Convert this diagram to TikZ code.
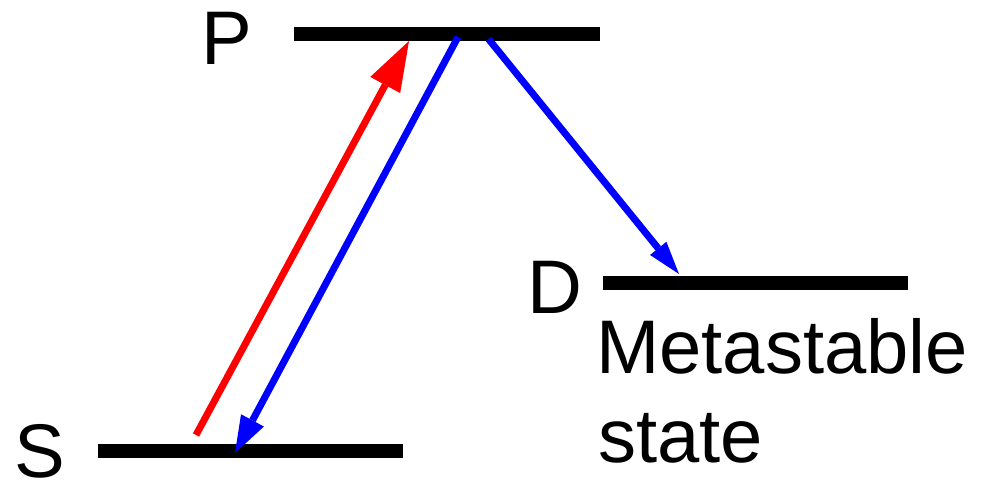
\documentclass[tikz,border=0pt]{standalone}
\usepackage{fontspec}
\setmainfont{Liberation Sans}
\usetikzlibrary{arrows.meta}
\begin{document}
\begin{tikzpicture}[x=1pt,y=-1pt,
  level/.style={line width=14pt,line cap=butt,black},
  trans/.style={line width=7pt,line cap=butt},
  lbl/.style={anchor=base west,inner sep=0pt,font=\fontsize{76}{89}\selectfont}]
\useasboundingbox (0,0) rectangle (984,480);
% level coordinates
\coordinate (P1) at (294,33.5); \coordinate (P2) at (600,33.5);
\coordinate (S1) at (98,450.5); \coordinate (S2) at (403,450.5);
\coordinate (D1) at (603,282.5); \coordinate (D2) at (908,282.5);
\draw[level] (P1) -- (P2);
\draw[level] (S1) -- (S2);
\draw[level] (D1) -- (D2);
% labels
\node[lbl] (lP) at (201,64) {P};
\node[lbl] (lS) at (14,477) {S};
\node[lbl] (lD) at (527,313) {D};
\node[lbl] (lM) at (596,373) {Metastable};
\node[lbl] (lst) at (598,462) {state};
% transition end points
\coordinate (rA) at (196,435); \coordinate (rB) at (409,41);
\coordinate (bA) at (458,37);  \coordinate (bB) at (235,453);
\coordinate (dA) at (488.5,39); \coordinate (dB) at (679,274);
\draw[trans,red,-{Triangle[length=50pt,width=34pt,line width=0pt]}] (rA) -- (rB);
\draw[trans,blue,-{Triangle[length=37pt,width=26pt,line width=0pt]}] (bA) -- (bB);
\draw[trans,blue,-{Triangle[length=33pt,width=21pt,line width=0pt]}] (dA) -- (dB);
\end{tikzpicture}
\end{document}
